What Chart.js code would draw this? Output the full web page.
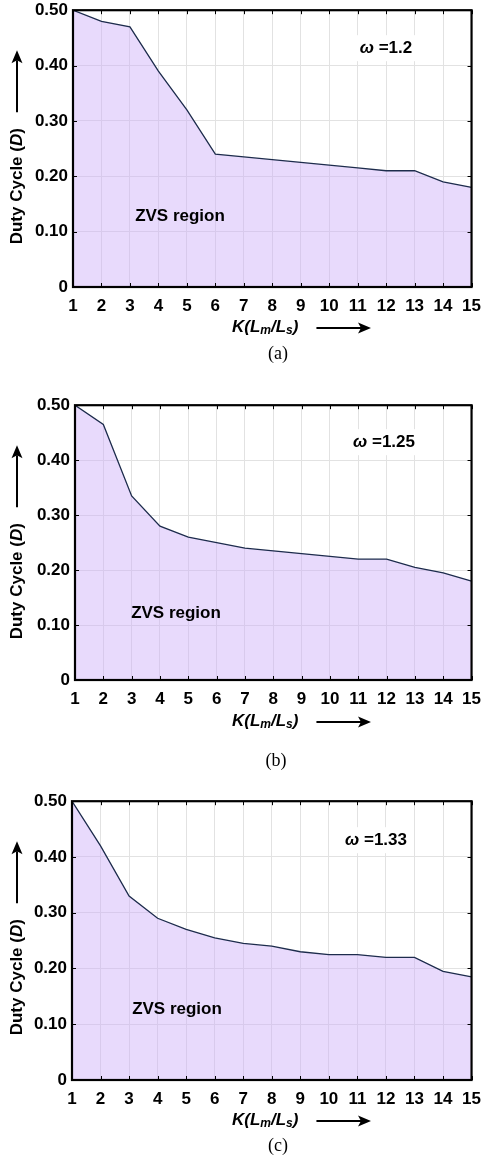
<!DOCTYPE html>
<html>
<head>
<meta charset="utf-8">
<script src="https://cdn.jsdelivr.net/npm/chart.js@4.4.1/dist/chart.umd.min.js"></script>
<style>
  html, body { margin: 0; padding: 0; background: #fff; }
  body { width: 482px; height: 1158px; position: relative; overflow: hidden; }
  canvas { position: absolute; left: 0; }
</style>
</head>
<body>
<canvas id="chartA"></canvas>
<canvas id="chartB"></canvas>
<canvas id="chartC"></canvas>
<script>
// K = Lm/Ls
const kValues = [1, 2, 3, 4, 5, 6, 7, 8, 9, 10, 11, 12, 13, 14, 15]
const yTicks = [0, 0.1, 0.2, 0.3, 0.4, 0.5]

// duty cycle limits for the three omega values
const dutyA = [0.50, 0.48, 0.47, 0.39, 0.32, 0.24, 0.235, 0.23, 0.225, 0.22, 0.215, 0.21, 0.21, 0.19, 0.18]
const dutyB = [0.50, 0.465, 0.335, 0.28, 0.26, 0.25, 0.24, 0.235, 0.23, 0.225, 0.22, 0.22, 0.205, 0.195, 0.18]
const dutyC = [0.50, 0.42, 0.33, 0.29, 0.27, 0.255, 0.245, 0.24, 0.23, 0.225, 0.225, 0.22, 0.22, 0.195, 0.185]

const omegas = ['1.2', '1.25', '1.33']
const captions = ['(a)', '(b)', '(c)']

const CANVAS_W = 490
const PAD_TOP = 12
const SANS = '"Liberation Sans", Arial, sans-serif'
const SERIF = '"Liberation Serif", "Times New Roman", serif'

// page layout of each panel (plot box in page pixels)
const panels = [
    { id: 'chartA', data: dutyA, top: 7, bottom: 287, left: 73, right: 475, pageBottom: 372,
      omegaAt: [313, 38], zvsAt: [107, 206], xTitleDy: 40, captionX: 278, captionDy: 67 },
    { id: 'chartB', data: dutyB, top: 402, bottom: 680, left: 75, right: 479, pageBottom: 772,
      omegaAt: [309, 37], zvsAt: [101, 208], xTitleDy: 41, captionX: 276, captionDy: 81 },
    { id: 'chartC', data: dutyC, top: 798, bottom: 1080, left: 72, right: 476, pageBottom: 1158,
      omegaAt: [304, 39], zvsAt: [105, 208], xTitleDy: 40, captionX: 278, captionDy: 66 },
]

function arrow(ctx, x1, y1, x2, y2) {
    const ang = Math.atan2(y2 - y1, x2 - x1)
    const head = 13, half = 5.5
    const bx = x2 - head * Math.cos(ang), by = y2 - head * Math.sin(ang)
    ctx.lineWidth = 2
    ctx.beginPath()
    ctx.moveTo(x1, y1)
    ctx.lineTo(bx + 3 * Math.cos(ang), by + 3 * Math.sin(ang))
    ctx.stroke()
    ctx.beginPath()
    ctx.moveTo(x2, y2)
    ctx.lineTo(bx - half * Math.sin(ang), by + half * Math.cos(ang))
    ctx.lineTo(bx + 3 * Math.cos(ang), by + 3 * Math.sin(ang))
    ctx.lineTo(bx + half * Math.sin(ang), by - half * Math.cos(ang))
    ctx.closePath()
    ctx.fill()
}

// draw runs of [text, font, dy] left to right from x
function runs(ctx, parts, x, y) {
    for (const [t, f, dy] of parts) {
        ctx.font = f
        ctx.fillText(t, x, y + (dy || 0))
        x += ctx.measureText(t).width
    }
    return x
}

const decoPlugin = {
    id: 'deco',
    afterDatasetsDraw(chart, args, opts) {
        const { ctx, chartArea: a } = chart
        const xs = chart.scales.x, ys = chart.scales.y
        ctx.save()
        ctx.strokeStyle = '#000'
        ctx.fillStyle = '#000'
        // inward tick marks on all four sides
        ctx.lineWidth = 1
        ctx.beginPath()
        xs.ticks.forEach((t, i) => {
            const px = Math.round(xs.getPixelForTick(i)) + 0.5
            ctx.moveTo(px, a.top); ctx.lineTo(px, a.top + 4)
            ctx.moveTo(px, a.bottom); ctx.lineTo(px, a.bottom - 4)
        })
        ys.ticks.forEach((t, i) => {
            const py = Math.round(ys.getPixelForTick(i)) + 0.5
            ctx.moveTo(a.left, py); ctx.lineTo(a.left + 4, py)
            ctx.moveTo(a.right, py); ctx.lineTo(a.right - 4, py)
        })
        ctx.stroke()
        // box
        ctx.lineWidth = 2.2
        ctx.strokeRect(a.left, a.top, a.right - a.left, a.bottom - a.top)

        // omega label with white backing
        ctx.textBaseline = 'middle'
        const ox = a.left + opts.omegaAt[0], oy = a.top + opts.omegaAt[1]
        ctx.font = 'italic bold 17px ' + SANS
        const w1 = ctx.measureText('\u03c9 ').width
        ctx.font = 'bold 17px ' + SANS
        const w2 = ctx.measureText('=' + opts.omega).width
        const sx = ox - (w1 + w2) / 2
        ctx.fillStyle = '#fff'
        ctx.fillRect(sx - 6, oy - 13, w1 + w2 + 12, 26)
        ctx.fillStyle = '#000'
        runs(ctx, [['\u03c9 ', 'italic bold 17px ' + SANS], ['=' + opts.omega, 'bold 17px ' + SANS]], sx, oy)

        // region label
        ctx.font = 'bold 17px ' + SANS
        ctx.textAlign = 'center'
        ctx.fillText('ZVS region', a.left + opts.zvsAt[0], a.top + opts.zvsAt[1])
        ctx.textAlign = 'left'

        // y axis title, rotated, with arrow above it
        ctx.save()
        ctx.translate(17, a.top + 176)
        ctx.rotate(-Math.PI / 2)
        const yParts = [['Duty Cycle (', 'bold 17px ' + SANS], ['D', 'italic bold 17px ' + SANS], [')', 'bold 17px ' + SANS]]
        let tw = 0
        for (const [t, f] of yParts) { ctx.font = f; tw += ctx.measureText(t).width }
        runs(ctx, yParts, -tw / 2, 0)
        ctx.restore()
        arrow(ctx, 17, a.top + 102, 17, a.top + 40)

        // x axis title with subscripts, arrow to the right
        const ty = a.bottom + opts.xTitleDy
        const bi = 'italic bold 17px ' + SANS, sub = 'italic bold 12px ' + SANS
        const endX = runs(ctx, [['K(L', bi], ['m', sub, 4], ['/L', bi], ['s', sub, 4], [')', bi]], 232, ty)
        arrow(ctx, endX + 18, ty + 1, 371, ty + 1)

        // caption
        ctx.font = '18px ' + SERIF
        ctx.textAlign = 'center'
        ctx.fillText(opts.caption, opts.captionX, a.bottom + opts.captionDy)
        ctx.restore()
    }
}

const tickFont = { family: SANS, size: 17, weight: 'bold' }

panels.forEach((p, idx) => {
    const canvasTop = p.top - PAD_TOP
    const h = p.pageBottom - canvasTop
    const el = document.getElementById(p.id)
    el.width = CANVAS_W
    el.height = h
    el.style.top = canvasTop + 'px'
    el.style.width = CANVAS_W + 'px'
    el.style.height = h + 'px'
    const xAxisH = h - PAD_TOP - (p.bottom - p.top)

    new Chart(el, {
        type: 'line',
        data: {
            labels: kValues.map(String),
            datasets: [{
                data: p.data,
                borderColor: '#1d2c4c',
                borderWidth: 1.3,
                backgroundColor: 'rgba(204, 174, 248, 0.45)',
                fill: 'origin',
                pointRadius: 0,
                tension: 0,
            }]
        },
        options: {
            responsive: false,
            animation: false,
            devicePixelRatio: 1,
            layout: { padding: { top: PAD_TOP, left: 0, right: CANVAS_W - p.right, bottom: 0 } },
            plugins: {
                legend: { display: false },
                tooltip: { enabled: false },
                deco: {
                    omega: omegas[idx], omegaAt: p.omegaAt, zvsAt: p.zvsAt,
                    xTitleDy: p.xTitleDy, caption: captions[idx], captionX: p.captionX, captionDy: p.captionDy,
                },
            },
            scales: {
                x: {
                    offset: false,
                    grid: { color: '#e2e2e2', lineWidth: 1, drawTicks: false },
                    border: { display: false },
                    ticks: { font: tickFont, color: '#000', padding: 9, maxRotation: 0, autoSkip: false },
                    afterFit: (s) => { s.height = xAxisH },
                },
                y: {
                    min: 0,
                    max: 0.5,
                    afterBuildTicks: (s) => { s.ticks = yTicks.map(v => ({ value: v })) },
                    grid: { color: '#e2e2e2', lineWidth: 1, drawTicks: false },
                    border: { display: false },
                    ticks: {
                        font: tickFont, color: '#000', padding: 5,
                        callback: (v) => v === 0 ? '0' : v.toFixed(2),
                    },
                    afterFit: (s) => { s.width = p.left },
                },
            },
        },
        plugins: [decoPlugin],
    })
})
</script>
</body>
</html>
